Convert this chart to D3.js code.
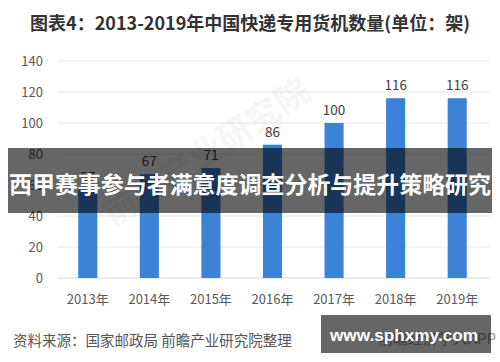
<!DOCTYPE html>
<html><head><meta charset="utf-8">
<script src="https://cdn.jsdelivr.net/npm/d3@7"></script>
<style>
html,body{margin:0;padding:0;background:#fff;}
svg{display:block;font-family:"Noto Sans CJK SC","Noto Sans",sans-serif;}
</style></head>
<body><svg id="c" width="500" height="362"></svg>
<script>
const categories = ["2013年","2014年","2015年","2016年","2017年","2018年","2019年"];
const values = [57, 67, 71, 86, 100, 116, 116];
const yTicks = [0, 20, 40, 60, 80, 100, 120, 140];
const titleText = "图表4：2013-2019年中国快递专用货机数量(单位：架)";
const bannerText = "西甲赛事参与者满意度调查分析与提升策略研究";
const sourceText = "资料来源：国家邮政局 前瞻产业研究院整理";
const siteText = "www.sphxmy.com";

const svg = d3.select("#c");
const x = d3.scaleBand().domain(categories).range([57, 488]).paddingInner(0.69).paddingOuter(0.345);
const y = d3.scaleLinear().domain([0, 140]).range([278, 61]);

// title
svg.append("text").attr("x", 250).attr("y", 22).attr("text-anchor", "middle")
  .attr("dominant-baseline", "central").attr("font-size", 18).attr("font-weight", "bold")
  .attr("textLength", 440).attr("lengthAdjust", "spacingAndGlyphs")
  .attr("fill", "#333").text(titleText);

// gridlines
svg.append("g").selectAll("line").data(yTicks).join("line")
  .attr("x1", 58).attr("x2", 490).attr("y1", d => y(d)).attr("y2", d => y(d))
  .attr("stroke", d => d === 0 ? "#d9d9d9" : "#e8e8e8").attr("stroke-width", 1);

// y axis labels
const yAxis = d3.axisLeft(y).tickValues(yTicks).tickSize(0).tickPadding(0);
const gy = svg.append("g").attr("transform", "translate(43,0)").call(yAxis);
gy.select(".domain").remove();
gy.selectAll("text").attr("font-size", 13).attr("fill", "#595959")
  .attr("font-family", "'Noto Sans CJK SC',sans-serif");

// watermark
svg.append("text").attr("transform", "translate(205,150) rotate(-33)")
  .attr("text-anchor", "middle").attr("dominant-baseline", "central")
  .attr("font-size", 34).attr("font-weight", "bold").attr("fill", "#000").attr("opacity", 0.03)
  .text("前瞻产业研究院");

// bars
svg.append("g").selectAll("rect").data(values).join("rect")
  .attr("x", (d, i) => x(categories[i])).attr("width", x.bandwidth())
  .attr("y", d => y(d)).attr("height", d => y(0) - y(d)).attr("fill", "#3c83d8");

// data labels
svg.append("g").selectAll("text").data(values).join("text")
  .attr("x", (d, i) => x(categories[i]) + x.bandwidth() / 2).attr("y", d => y(d) - 14)
  .attr("text-anchor", "middle").attr("dominant-baseline", "central")
  .attr("font-size", 13.5).attr("fill", "#404040").text(d => d);

// x axis labels
const xAxis = d3.axisBottom(x).tickSize(0).tickPadding(0);
const gx = svg.append("g").attr("transform", "translate(0,298)").call(xAxis);
gx.select(".domain").remove();
gx.selectAll("text").attr("font-size", 13).attr("fill", "#595959").attr("dy", null)
  .attr("dominant-baseline", "central").attr("y", 0)
  .attr("font-family", "'Noto Sans CJK SC',sans-serif");

// source
svg.append("text").attr("x", 13).attr("y", 339).attr("dominant-baseline", "central")
  .attr("font-size", 14.5).attr("fill", "#555").text(sourceText);

// faint app text under box
svg.append("text").attr("x", 496).attr("y", 337).attr("text-anchor", "end")
  .attr("dominant-baseline", "central").attr("font-size", 15).attr("fill", "#999")
  .text("前瞻经济学人APP");

// site box
svg.append("rect").attr("x", 321).attr("y", 315).attr("width", 170).attr("height", 38)
  .attr("fill", "rgba(0,0,0,0.6)");
svg.append("text").attr("x", 404).attr("y", 335).attr("text-anchor", "middle")
  .attr("dominant-baseline", "central").attr("font-size", 17).attr("font-weight", "bold")
  .attr("font-family", "'Liberation Sans',Arial,sans-serif")
  .attr("textLength", 148).attr("lengthAdjust", "spacingAndGlyphs")
  .attr("fill", "#fff").text(siteText);

// banner
svg.append("rect").attr("x", 8).attr("y", 148).attr("width", 484).attr("height", 65)
  .attr("fill", "rgba(0,0,0,0.6)");
svg.append("text").attr("x", 250).attr("y", 183).attr("text-anchor", "middle")
  .attr("dominant-baseline", "central").attr("font-size", 23).attr("font-weight", "bold")
  .attr("textLength", 482).attr("lengthAdjust", "spacingAndGlyphs")
  .attr("fill", "#fff").text(bannerText);
</script></body></html>
